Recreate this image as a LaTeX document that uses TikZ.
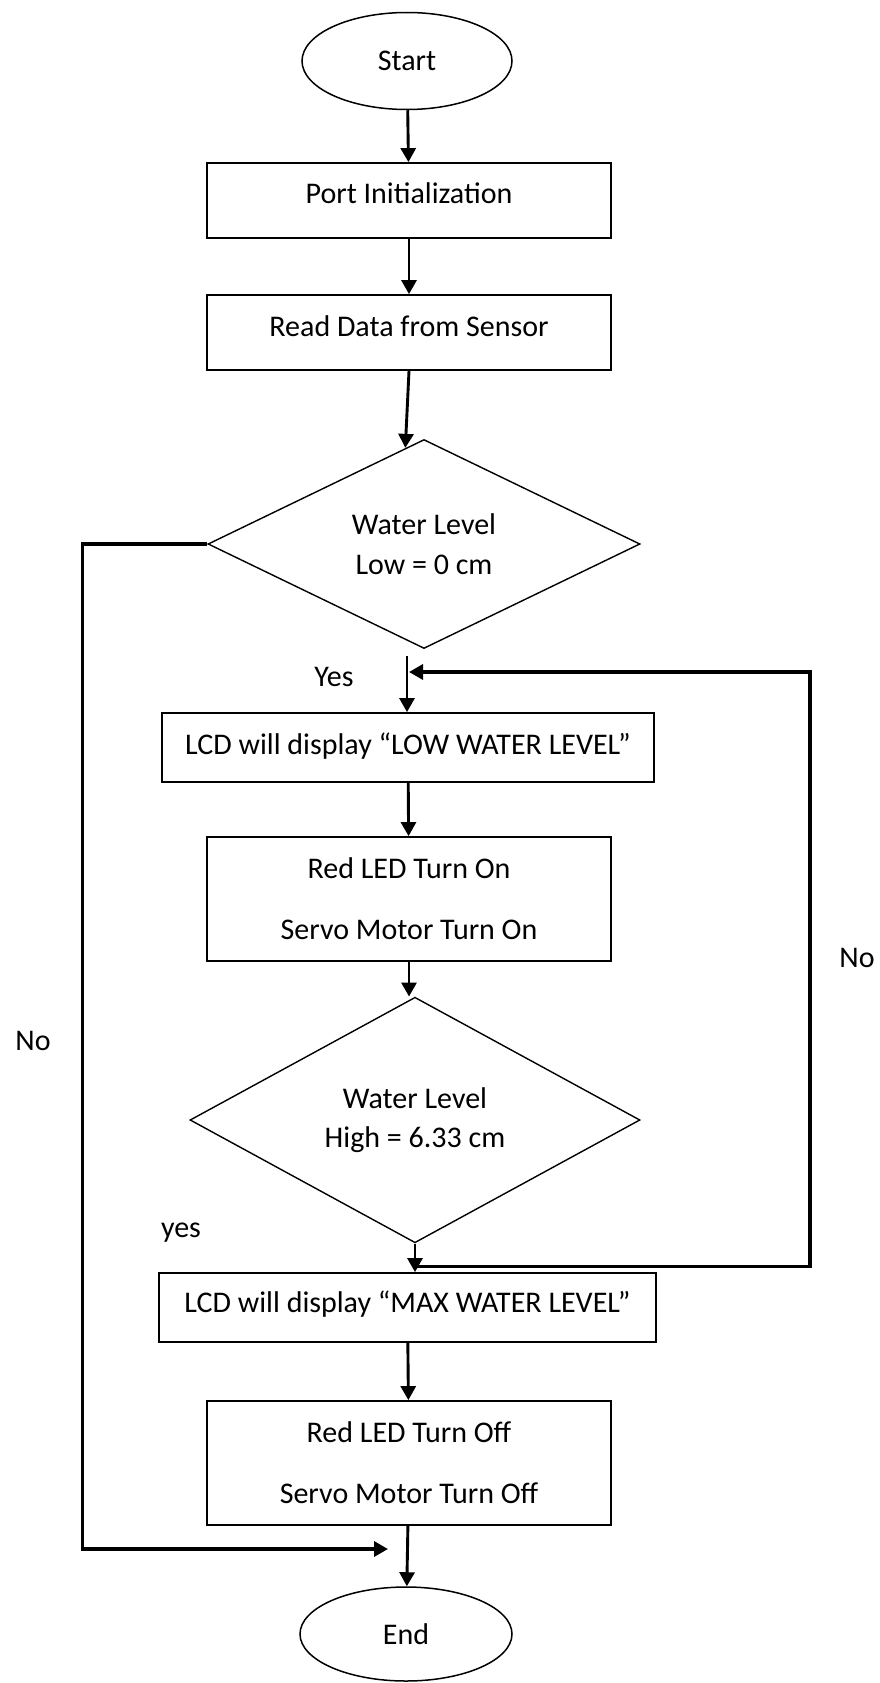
\documentclass[tikz,border=0pt]{standalone}
\usepackage{fontspec}
\setmainfont{Carlito}
\usetikzlibrary{shapes.geometric, arrows.meta}

\tikzset{
  process/.style={draw, rectangle, line width=1.8pt, minimum width=404pt, minimum height=75pt, inner sep=0pt, align=center},
  raised/.style={text height=22pt, text depth=#1},
  decision/.style={draw, diamond, line width=1.4pt, inner sep=0pt, align=center},
  terminal/.style={draw, ellipse, line width=1.5pt, inner sep=0pt},
  flow/.style={->, line width=2.9pt},
}

\begin{document}
\begin{tikzpicture}[x=1pt, y=-1pt, >={Triangle[length=14pt,width=15pt]}, font=\fontsize{30}{36}\selectfont]
    \useasboundingbox (0,0) rectangle (879,1683);
    \node[terminal, minimum width=210pt, minimum height=97pt] (start) at (407,61) {Start};
    \node[process, raised=16pt] (port) at (409,200.5) {Port Initialization};
    \node[process, raised=15pt] (read) at (409,332.5) {Read Data from Sensor};
    \node[decision, minimum width=432pt, minimum height=209pt] (lowchk) at (424,544) {Water Level\\[4pt]Low = 0 cm};
    \node[process, raised=9pt, minimum width=492pt, minimum height=69pt] (lowlcd) at (408,747.5) {LCD will display “LOW WATER LEVEL”};
    \node[process, minimum height=124pt] (redon) at (409,899) {Red LED Turn On\\[25pt]Servo Motor Turn On};
    \node[decision, minimum width=450pt, minimum height=206pt] (highchk) at (415,1120) {Water Level\\[3pt]High = 6.33 cm};
    \node[process, raised=12pt, minimum width=497pt, minimum height=69pt] (maxlcd) at (407.5,1307.5) {LCD will display “MAX WATER LEVEL”};
    \node[process, minimum height=124pt] (redoff) at (409,1463) {Red LED Turn Off\\[25pt]Servo Motor Turn Off};
    \node[terminal, minimum width=212pt, minimum height=94pt] (stop) at (406,1634) {End};

    \node (yeslow) at (334,677) {Yes};
    \node (nolow) at (33,1041) {No};
    \node (nohigh) at (857,958) {No};
    \node (yeshigh) at (181,1233) {yes};

    \coordinate (yesjoin) at (407,656);
    \coordinate (loopback) at (409,672);
    \coordinate (nojoin) at (388,1549);

    \draw[flow] (start) -- (port);
    \draw[flow] (port) -- (read);
    \draw[flow] (read.south) -- (lowchk.101);
    \draw[flow] (yesjoin) -- (lowlcd.north -| yesjoin);
    \draw[flow] (lowlcd) -- (redon);
    \draw[flow] (redon.south) -- (redon.south |- highchk.north);
    \draw[flow] (highchk.south) -- (maxlcd.north -| highchk.south);
    \draw[flow] (maxlcd) -- (redoff);
    \draw[flow] (redoff) -- (stop);
    \draw[flow, line width=3.3pt] (highchk.south) ++(0,23) -- ++(395,0) |- (loopback);
    \draw[flow, line width=3.3pt] (lowchk.west) -- ++(-125,0) |- (nojoin);
\end{tikzpicture}
\end{document}
